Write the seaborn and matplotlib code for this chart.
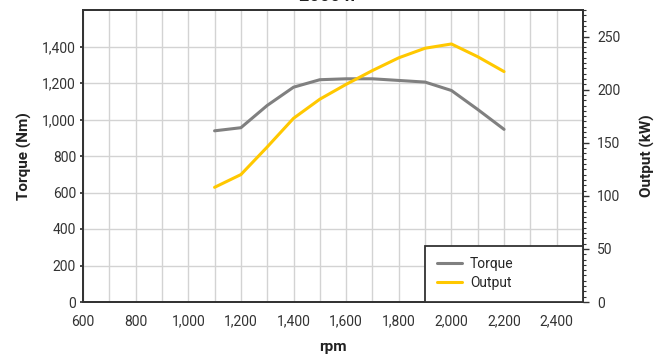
import numpy as np
import pandas as pd
import matplotlib
matplotlib.use("Agg")
import matplotlib.pyplot as plt
from matplotlib.ticker import MultipleLocator, FuncFormatter
import seaborn as sns

# engine curve values
rpm = [1100, 1200, 1300, 1400, 1500, 1600, 1700, 1800, 1900, 2000, 2100, 2200]
torque_nm = [938, 955, 1077, 1177, 1218, 1223, 1223, 1214, 1205, 1159, 1055, 946]
output_kw = [108, 120, 146, 173, 191, 205, 218, 230, 239, 243, 231, 217]

df = pd.DataFrame({"rpm": rpm, "Torque": torque_nm, "Output": output_kw})

sns.set_theme(style="white")
plt.rcParams["font.family"] = ["Roboto", "DejaVu Sans"]

gray = "#808080"
yellow = "#FFC800"
spine_col = "#333333"

fig = plt.figure(figsize=(6.54, 3.54), dpi=100)
ax = fig.add_axes([83 / 654, 1 - 302 / 354, 500 / 654, 292 / 354])
ax2 = ax.twinx()

sns.lineplot(data=df, x="rpm", y="Torque", ax=ax, color=gray, lw=2.2, label="Torque", legend=False)
sns.lineplot(data=df, x="rpm", y="Output", ax=ax2, color=yellow, lw=2.2, label="Output", legend=False)

ax.set_xlim(600, 2500)
ax.set_ylim(0, 1600)
ax2.set_ylim(0, 275)

thousands = FuncFormatter(lambda v, p: f"{int(v):,}")
ax.xaxis.set_major_locator(MultipleLocator(200))
ax.xaxis.set_minor_locator(MultipleLocator(100))
ax.xaxis.set_major_formatter(thousands)
ax.set_yticks([0, 200, 400, 600, 800, 1000, 1200, 1400])
ax.yaxis.set_major_formatter(thousands)
ax2.set_yticks([0, 50, 100, 150, 200, 250])
ax2.yaxis.set_minor_locator(MultipleLocator(5))

ax.grid(True, which="both", axis="x", color="#d3d3d3", lw=1)
ax.grid(True, which="major", axis="y", color="#d3d3d3", lw=1)
ax.set_axisbelow(True)
ax2.grid(False)

ax.tick_params(axis="x", which="both", length=0, labelsize=10, pad=9, colors="#333333")
ax.tick_params(axis="y", length=2, labelsize=10, pad=3, colors="#333333")
ax2.tick_params(axis="y", which="major", length=4, width=1, labelsize=10, pad=6,
                colors="#333333", right=True)
ax2.tick_params(axis="y", which="minor", length=2, width=0.8, colors="#333333", right=True)

for a in (ax, ax2):
    for s in a.spines.values():
        s.set_color(spine_col)
        s.set_linewidth(1.3)

ax.set_xlabel("rpm", fontsize=11, fontweight="bold", labelpad=8, color="#222222")
ax.set_ylabel("Torque (Nm)", fontsize=11, fontweight="bold", labelpad=7, color="#222222")
ax2.set_ylabel("Output (kW)", fontsize=11, fontweight="bold", labelpad=14, color="#222222")

# title sits mostly above the visible canvas
fig.text(0.5, 1.012, "2000 h", ha="center", va="center", fontsize=13, fontweight="bold",
         color="#222222")

handles = ax.get_lines()[:1] + ax2.get_lines()[:1]
leg = ax2.legend(handles, ["Torque", "Output"], loc="lower left",
                 bbox_to_anchor=(0.684, 0.0, 0.316, 0.195), mode="expand",
                 frameon=True, fancybox=False, fontsize=10, handlelength=1.8,
                 handletextpad=0.6, borderaxespad=0, borderpad=0.85, labelspacing=0.35)
leg.get_frame().set_edgecolor(spine_col)
leg.get_frame().set_linewidth(1.3)
leg.get_frame().set_alpha(1)

fig.savefig("out.png", dpi=100)
